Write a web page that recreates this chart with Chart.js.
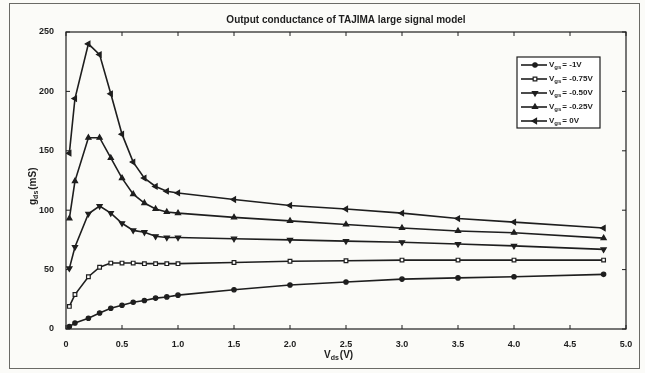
<!DOCTYPE html>
<html>
<head>
<meta charset="utf-8">
<script src="https://cdn.jsdelivr.net/npm/chart.js@4"></script>
<style>
  html, body { margin: 0; padding: 0; background: #fbfbf8; }
  #wrap { position: absolute; left: 9px; top: 3px; width: 629px; height: 364px; border: 1px solid #6a6a66; }
  canvas { position: absolute; left: 0; top: 0; }
</style>
</head>
<body>
<div id="wrap"></div>
<canvas id="chart" width="645" height="373"></canvas>
<script>
// gds (mS) vs Vds (V), one curve per Vgs
const vds = [0.03, 0.08, 0.2, 0.3, 0.4, 0.5, 0.6, 0.7, 0.8, 0.9, 1.0, 1.5, 2.0, 2.5, 3.0, 3.5, 4.0, 4.8];
const gdsM100 = [2, 5, 9, 13.5, 17.5, 20, 22.5, 24, 26, 27, 28.5, 33, 37, 39.5, 42, 43, 44, 46];
const gdsM075 = [19, 29, 44, 52, 55.5, 55.5, 55.5, 55, 55, 55, 55, 56, 57, 57.5, 58, 58, 58, 58];
const gdsM050 = [51, 69, 97, 103.5, 97.5, 89, 83, 81.5, 78, 77, 77, 76, 75, 74, 73, 71.5, 70, 67];
const gdsM025 = [93, 124.5, 161, 161, 144, 127, 113.5, 106, 101, 98.5, 97.5, 94, 91, 88, 85, 82.5, 81, 76.5];
const gds000 = [148, 194, 240, 231, 198, 164, 140.5, 127, 120, 116, 114.5, 109, 104, 101, 97.5, 93, 90, 85];
const vgsLabels = ["= -1V", "= -0.75V", "= -0.50V", "= -0.25V", "= 0V"];
const xTicks = [0, 0.5, 1, 1.5, 2, 2.5, 3, 3.5, 4, 4.5, 5];
const yTicks = [0, 50, 100, 150, 200, 250];

const ink = "#1e1e1e";
const pts = ys => ys.map((y, i) => ({ x: vds[i], y }));
const mk = (label, ys, style, rot, fill, r) => ({
  label, data: pts(ys), borderColor: ink, borderWidth: 1.6, backgroundColor: fill,
  pointStyle: style, pointRotation: rot, pointRadius: r, pointBorderWidth: 1.2,
  pointBorderColor: ink, pointBackgroundColor: fill, tension: 0,
});

const datasets = [
  mk(vgsLabels[0], gdsM100, "circle", 0, ink, 2.2),
  mk(vgsLabels[1], gdsM075, "rect", 0, "#ffffff", 2.6),
  mk(vgsLabels[2], gdsM050, "triangle", 180, ink, 3),
  mk(vgsLabels[3], gdsM025, "triangle", 0, ink, 3),
  mk(vgsLabels[4], gds000, "triangle", -90, ink, 3),
];

const font = "bold 9px 'Liberation Sans', Arial, sans-serif";

// V with subscript, then the rest
function subText(ctx, x, y, main, sub, rest, size) {
  ctx.font = `bold ${size}px 'Liberation Sans', Arial, sans-serif`;
  ctx.fillText(main, x, y);
  let w = ctx.measureText(main).width;
  ctx.font = `bold ${Math.round(size * 0.7)}px 'Liberation Sans', Arial, sans-serif`;
  ctx.fillText(sub, x + w, y + size * 0.3);
  w += ctx.measureText(sub).width;
  ctx.font = `bold ${size}px 'Liberation Sans', Arial, sans-serif`;
  ctx.fillText(rest, x + w + 1, y);
  return w + 1 + ctx.measureText(rest).width;
}

const decor = {
  id: "decor",
  afterDraw(chart) {
    const { ctx, chartArea: a, scales: { x, y } } = chart;
    ctx.save();
    ctx.strokeStyle = ink; ctx.fillStyle = ink; ctx.lineWidth = 1.2;
    ctx.strokeRect(a.left, a.top, a.right - a.left, a.bottom - a.top);
    // inward ticks, all four sides
    ctx.lineWidth = 1;
    ctx.beginPath();
    xTicks.forEach(v => {
      const px = x.getPixelForValue(v);
      ctx.moveTo(px, a.bottom); ctx.lineTo(px, a.bottom - 4);
      ctx.moveTo(px, a.top); ctx.lineTo(px, a.top + 4);
    });
    yTicks.forEach(v => {
      const py = y.getPixelForValue(v);
      ctx.moveTo(a.left, py); ctx.lineTo(a.left + 4, py);
      ctx.moveTo(a.right, py); ctx.lineTo(a.right - 4, py);
    });
    ctx.stroke();

    // title
    ctx.font = "bold 10px 'Liberation Sans', Arial, sans-serif";
    ctx.textAlign = "center"; ctx.textBaseline = "middle";
    ctx.fillText("Output conductance of TAJIMA large signal model", (a.left + a.right) / 2, 20);

    // axis titles
    ctx.textAlign = "left";
    ctx.font = "bold 10px 'Liberation Sans', Arial, sans-serif";
    const xw = 44;
    subText(ctx, (a.left + a.right) / 2 - xw / 2, 355, "V", "ds", "(V)", 10);
    ctx.save();
    ctx.translate(33, 205); ctx.rotate(-Math.PI / 2);
    subText(ctx, 0, 0, "g", "ds", "(mS)", 10);
    ctx.restore();

    // legend
    const lx = 517, ly = 57, lw = 83, lh = 71;
    ctx.fillStyle = "#ffffff";
    ctx.fillRect(lx, ly, lw, lh);
    ctx.lineWidth = 1.2; ctx.strokeStyle = ink;
    ctx.strokeRect(lx, ly, lw, lh);
    chart.data.datasets.forEach((ds, i) => {
      const cy = ly + 8 + i * 14;
      ctx.lineWidth = 1.6; ctx.strokeStyle = ink;
      ctx.beginPath(); ctx.moveTo(lx + 4, cy); ctx.lineTo(lx + 30, cy); ctx.stroke();
      ctx.fillStyle = ds.pointBackgroundColor; ctx.strokeStyle = ink; ctx.lineWidth = 1.2;
      Chart.helpers.drawPoint(ctx, { pointStyle: ds.pointStyle, radius: ds.pointRadius, rotation: ds.pointRotation, borderWidth: 1.2 }, lx + 18, cy);
      ctx.fillStyle = ink; ctx.textBaseline = "middle";
      subText(ctx, lx + 32, cy, "V", "gs", ds.label, 8);
    });
    ctx.restore();
  },
};

new Chart(document.getElementById("chart").getContext("2d"), {
  type: "line",
  data: { datasets },
  options: {
    responsive: false, animation: false,
    layout: { padding: { left: 0, top: 32, right: 19, bottom: 0 } },
    plugins: { legend: { display: false }, tooltip: { enabled: false } },
    scales: {
      x: {
        type: "linear", min: 0, max: 5,
        afterBuildTicks: s => { s.ticks = xTicks.map(v => ({ value: v })); },
        afterFit: s => { s.height = 44; },
        grid: { display: false }, border: { display: false },
        ticks: { color: ink, font: { size: 9, weight: "bold", family: "'Liberation Sans', Arial" }, padding: 2, maxRotation: 0, autoSkip: false },
      },
      y: {
        min: 0, max: 250,
        afterBuildTicks: s => { s.ticks = yTicks.map(v => ({ value: v })); },
        afterFit: s => { s.width = 66; },
        grid: { display: false }, border: { display: false },
        ticks: { color: ink, font: { size: 9, weight: "bold", family: "'Liberation Sans', Arial" }, padding: 4 },
      },
    },
  },
  plugins: [decor],
});
</script>
</body>
</html>
